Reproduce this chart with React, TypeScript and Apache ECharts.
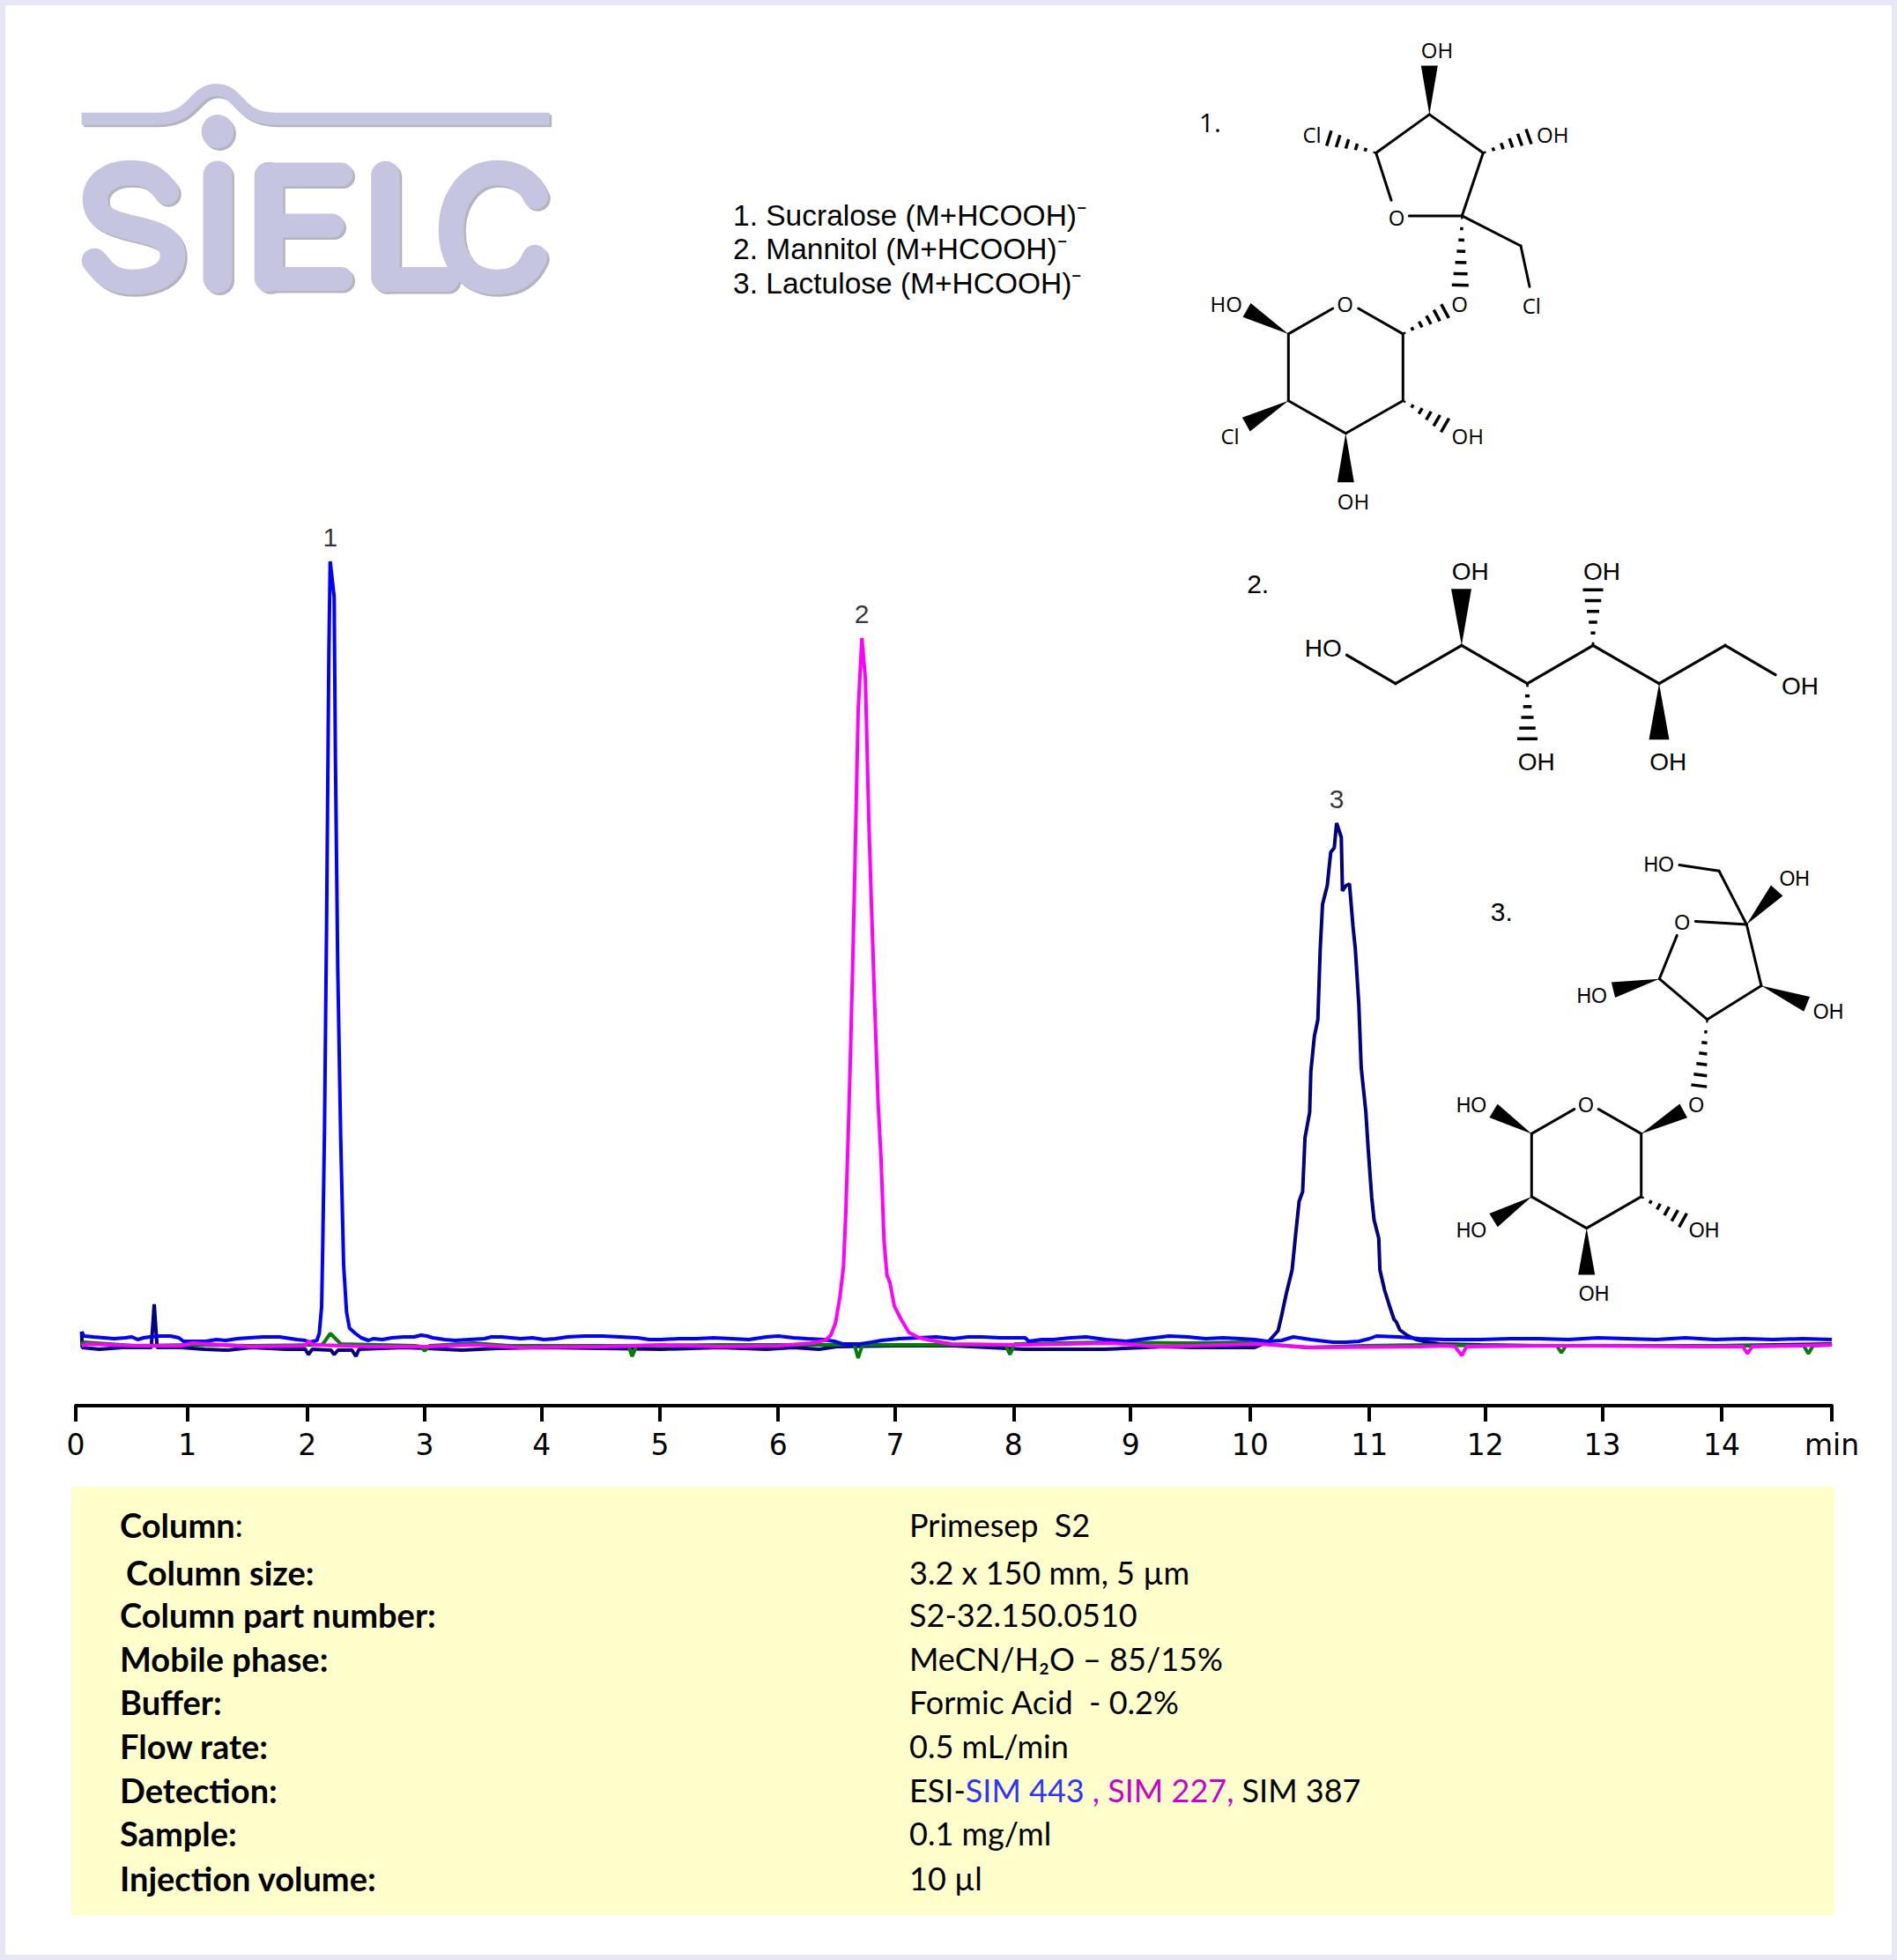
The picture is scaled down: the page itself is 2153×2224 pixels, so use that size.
import React, { useEffect, useRef } from "react";
import * as echarts from "echarts";

// ---------- chromatogram data (time in min, signal in arbitrary units) ----------
const blueT = [0.05,0.07,0.15,0.33,0.42,0.48,0.53,0.58,0.63,0.72,0.81,0.88,0.92,1.02,1.11,1.2,1.28,1.38,1.48,1.6,1.74,1.89,1.96,2.0,2.06,2.08,2.1,2.11,2.125,2.143,2.162,2.173,2.207,2.218,2.238,2.263,2.288,2.313,2.338,2.388,2.438,2.5,2.54,2.62,2.7,2.8,2.89,2.95,3.0,3.05,3.15,3.24,3.36,3.49,3.55,3.64,3.72,3.8,3.9,4.0,4.1,4.2,4.35,4.5,4.65,4.8,4.9,5.0,5.15,5.3,5.45,5.6,5.75,5.9,6.0,6.13,6.25,6.38,6.48,6.55,6.7,6.8,6.88,7.03,7.2,7.35,7.5,7.62,7.74,7.9,8.11,8.14,8.25,8.35,8.5,8.63,8.8,8.97,9.15,9.34,9.5,9.65,9.8,9.95,10.07,10.18,10.3,10.4,10.55,10.74,10.85,10.96,11.05,11.11,11.3,11.48,11.7,12,12.25,12.5,12.75,13,13.25,13.5,13.75,14,14.25,14.5,14.75,15];
const blueV = [84,79,78,76,77,78,75,77,78,79,79,77,73,73,73,75,74,76,77,78,78,75,74,72,74,82,112,184,316,555,855,958,918,735,495,304,160,106,88,82,77,74,76,75,77,78,78,80,79,77,75,74,75,76,78,78,77,76,77,75,76,78,79,79,78,77,75,75,76,76,77,76,75,78,79,77,76,75,73,70,70,72,74,76,77,78,76,78,78,77,77,73,75,75,77,78,75,73,76,79,78,76,77,76,75,73,74,78,75,72,72,73,76,79,78,76,75,75,76,76,75,77,76,75,77,75,76,75,76,75];

const navyT = [0.05,0.055,0.2,0.4,0.645,0.67,0.695,0.9,1.1,1.3,1.5,1.8,1.96,1.987,2.02,2.18,2.207,2.24,2.36,2.393,2.42,2.8,3,3.3,3.6,4,4.5,5,5.5,5.9,6.13,6.35,6.5,7,7.5,8.1,8.32,8.78,9.3,9.55,10.07,10.14,10.19,10.27,10.3,10.34,10.39,10.42,10.45,10.48,10.5,10.54,10.55,10.58,10.61,10.63,10.65,10.69,10.72,10.75,10.77,10.81,10.82,10.85,10.88,10.91,10.93,10.96,10.98,11.02,11.04,11.07,11.09,11.13,11.14,11.18,11.22,11.26,11.28,11.31,11.37,11.45,11.55,11.65,12,12.5,13,14,15];
const navyV = [84,66,64,66,66,115,66,66,64,63,66,64,64,58,64,63,58,63,63,56,64,66,65,63,65,66,65,64,66,64,66,64,67,68,68,64,64,64,67,66,66,70,73,85,102,127,154,194,232,243,304,333,379,419,438,518,569,590,628,633,661,645,584,590,592,544,518,455,384,333,291,236,211,190,154,131,114,98,95,86,80,75,72,70,69,68,68,68,70];

const greenT = [0.05,0.07,0.5,1,1.5,2.1,2.122,2.175,2.263,2.9,2.95,2.98,3.02,3.4,3.7,4.5,4.72,4.753,4.79,5.5,6.5,6.65,6.683,6.72,7.5,7.94,7.98,8.02,8.8,9.5,10,10.5,11,11.5,12,12.65,12.69,12.73,13.5,14.76,14.8,14.84,15];
const greenV = [70,72,68,69,68,69,72,82,70,68,67,62,68,71,68,68,68,56,68,69,69,70,54,69,69,69,58,70,72,71,72,66,68,69,68,68,60,68,68,68,59,68,69];

const magentaT = [0.05,0.1,0.5,0.9,1.0,1.5,1.96,1.987,2.03,2.5,3,3.4,3.8,4.5,5,5.5,6,6.28,6.4,6.45,6.49,6.528,6.558,6.578,6.598,6.615,6.64,6.658,6.683,6.715,6.745,6.773,6.798,6.828,6.854,6.879,6.904,6.929,6.954,6.992,7.054,7.117,7.205,7.306,7.48,8.1,8.84,9.27,10.1,10.57,11.48,11.7,11.78,11.84,11.88,12.5,13,13.8,14.24,14.28,14.32,15];
const magentaV = [68,70,68,68,71,67,68,73,69,67,67,69,66,67,69,67,68,71,74,80,94,124,158,220,306,386,520,627,788,871,825,670,563,440,343,279,188,148,140,113,97,83,77,74,70,69,71,67,70,66,67,68,67,57,67,68,68,67,67,59,67,69];

const peakT = [2.173, 6.715, 10.77];
const peakV = [958, 871, 661];
const peakNames = ["1", "2", "3"];

// printed ticks sit slightly unevenly on the source scale
const tickPositions = [0,0.954,1.978,2.98,3.98,4.99,6,7,8.01,9.01,10.03,11.05,12.04,13.04,14.06,15];
const tickNames = ["0","1","2","3","4","5","6","7","8","9","10","11","12","13","14","min"];

// ---------- texts ----------
const compoundLines = ["1. Sucralose (M+HCOOH)⁻","2. Mannitol (M+HCOOH)⁻","3. Lactulose (M+HCOOH)⁻"];
const infoLabels = ["Column size:","Column part number:","Mobile phase:","Buffer:","Flow rate:","Detection:","Sample:","Injection volume:"];
const infoValues = ["3.2 x 150 mm, 5 µm","S2-32.150.0510","MeCN/H₂O – 85/15%","Formic Acid  - 0.2%","0.5 mL/min","","0.1 mg/ml","10 µl"];
const infoRowY = [1784,1832,1882,1931,1981,2031,2080,2131];

type P = [number, number];
const LOGO = "#c5c5e1";
const SHADOW = "#b4b4bc";
const logoPaths: Record<string, string> = {
  sielcBar: "M92.6 134.7 H178 C222 134.7 218 102 245.7 102 C273 102 268 134.7 313 134.7 H623.7",
  sielcS: "M189 218 C178 203 170 196 148 196 C125 196 108 208 108 226 C108 243 118 250 140 256 C165 263 196 265 196 290 C196 310 175 320 150 320 C127 320 118 310 107 296",
  sielcI: "M247 199 V316",
  sielcE: "M387 198 H305 V316.5 H387 M305 256 H377",
  sielcEV: "M305 200 V315",
  sielcL: "M437.5 317 H507",
  sielcLV: "M437.5 199 V315",
  sielcC: "M608 223 C600 205 585 196 564 196 C530 196 512 230 512 260 C512 295 530 320 564 320 C585 320 598 312 607 292",
};
let registered = false;
function registerLogo() {
  if (registered) return;
  registered = true;
  Object.keys(logoPaths).forEach((k) => {
    echarts.graphic.registerShape(k, (echarts.graphic as any).extendPath(logoPaths[k], {}));
  });
}

function bond(a: P, b: P, w = 3) {
  return { type: "line", shape: { x1: a[0], y1: a[1], x2: b[0], y2: b[1] }, style: { stroke: "#000", lineWidth: w, lineCap: "round" } };
}
function path(pts: P[], w = 3) {
  const out: any[] = [];
  for (let i = 0; i < pts.length - 1; i++) out.push(bond(pts[i], pts[i + 1], w));
  return out;
}
function wedge(a: P, b: P, width: number) {
  const dx = b[0] - a[0], dy = b[1] - a[1];
  const l = Math.hypot(dx, dy);
  const nx = (-dy / l) * (width / 2), ny = (dx / l) * (width / 2);
  return { type: "polygon", shape: { points: [a, [b[0] + nx, b[1] + ny], [b[0] - nx, b[1] - ny]] }, style: { fill: "#000" } };
}
function hash(a: P, b: P, width: number, n = 6) {
  const dx = b[0] - a[0], dy = b[1] - a[1];
  const l = Math.hypot(dx, dy);
  const ux = -dy / l, uy = dx / l;
  const out: any[] = [];
  for (let i = 0; i < n; i++) {
    const f = (i + 0.15) / (n - 0.85);
    const cx = a[0] + dx * f, cy = a[1] + dy * f;
    const h = (width / 2) * Math.max(f, 0.12);
    out.push({ type: "line", shape: { x1: cx + ux * h, y1: cy + uy * h, x2: cx - ux * h, y2: cy - uy * h }, style: { stroke: "#000", lineWidth: 3.5 } });
  }
  return out;
}
function label(text: string, x: number, y: number, size: number, family: string, extra: any = {}) {
  return { type: "text", x, y, style: { text, fontSize: size, fontFamily: family, fill: "#000", align: "center", verticalAlign: "middle", ...extra } };
}

function moleculeOne() {
  const f = "Open Sans", s = 24;
  const A: P = [1622.3, 129.9], B: P = [1683.3, 173.5], C: P = [1659.3, 244.9], D: P = [1561.7, 173.5];
  const P1: P = [1462.3, 378.9], P2: P = [1462.3, 454.7], P3: P = [1527.3, 491.7], P4: P = [1592.3, 454.7], P5: P = [1592.3, 378.9];
  return [
    label("1.", 1373.3, 138, 30, f),
    ...path([[1579, 227.2], D, A, B, C, [1599.3, 244.9]]),
    ...path([C, [1726, 279], [1736, 325.2]]),
    ...path([[1512.7, 350], P1, P2, P3, P4, P5, [1541.7, 350]]),
    wedge(A, [1622.3, 74.4], 19),
    wedge(P1, [1415, 351.9], 18),
    wedge(P2, [1414.3, 481.7], 18),
    wedge(P3, [1527.3, 547.2], 19),
    ...hash(D, [1508.3, 156.9], 18),
    ...hash(B, [1735, 155], 18),
    ...hash(C, [1657.3, 323.4], 19, 7),
    ...hash(P4, [1640, 482.5], 18),
    ...hash(P5, [1640, 353], 18),
    label("OH", 1631, 56, s, f), label("Cl", 1489, 152.5, s, f), label("OH", 1762.3, 152.5, s, f),
    label("O", 1585, 246.5, s, f), label("O", 1656.7, 344, s, f), label("Cl", 1738.3, 346, s, f),
    label("HO", 1391.7, 344, s, f), label("O", 1526.7, 344, s, f), label("Cl", 1396, 494, s, f),
    label("OH", 1665.7, 494, s, f), label("OH", 1536, 568.5, s, f),
  ];
}
function moleculeTwo() {
  const f = "Liberation Sans", s = 28;
  const c1: P = [1658.9, 732.3], c2: P = [1733.5, 775.7], c3: P = [1808, 732.3], c4: P = [1883, 775.7];
  return [
    label("2.", 1427.7, 662.3, 30, f),
    ...path([[1528.6, 743.3], [1583.9, 775.7], c1, c2, c3, c4, [1958, 732.3], [2015, 765.7]], 3.2),
    wedge(c1, [1658.5, 668.3], 23),
    wedge(c4, [1883, 839.3], 23),
    ...hash(c3, [1808, 669.3], 23),
    ...hash(c2, [1733.5, 838.3], 23),
    label("HO", 1501.8, 735, s, f), label("OH", 1668.8, 648.3, s, f), label("OH", 1818, 648.3, s, f),
    label("OH", 1743.8, 864.3, s, f), label("OH", 1893.3, 864.3, s, f), label("OH", 2042.9, 778.3, s, f),
  ];
}
function moleculeThree() {
  const f = "Liberation Sans", s = 23;
  const C2: P = [1982.3, 1049], C3: P = [1999, 1118.6], C4: P = [1937.7, 1156.8], C5: P = [1883.3, 1110.7];
  const Q1: P = [1738.3, 1286.4], Q2: P = [1738.3, 1357.9], Q3: P = [1800.7, 1393.6], Q4: P = [1862.7, 1357.9], Q5: P = [1862.7, 1286.4];
  return [
    label("3.", 1704.3, 1034.6, 30, f),
    ...path([[1906, 981.4], [1951, 988.2], C2, C3, C4, C5, [1903.3, 1061.4]]),
    bond([1924.3, 1045.4], C2),
    ...path([[1786.7, 1258.6], Q1, Q2, Q3, Q4, Q5, [1814.3, 1258.6]]),
    wedge(C2, [2016.7, 1010.4], 18),
    wedge(C3, [2050.7, 1139.3], 18),
    wedge(C5, [1831, 1123.2], 18),
    wedge(Q1, [1695, 1260.4], 18),
    wedge(Q2, [1695, 1384.6], 18),
    wedge(Q3, [1800.7, 1446.4], 19),
    wedge(Q5, [1910.7, 1260.4], 18),
    ...hash(C4, [1928.3, 1232], 18, 7),
    ...hash(Q4, [1910, 1384.6], 18),
    label("HO", 1882.7, 981, s, f), label("OH", 2036.7, 997, s, f), label("O", 1909.3, 1047, s, f),
    label("OH", 2075, 1147.9, s, f), label("HO", 1806.7, 1130.4, s, f), label("O", 1925.3, 1253.6, s, f),
    label("O", 1800, 1253.6, s, f), label("HO", 1670, 1253.6, s, f), label("HO", 1670, 1396, s, f),
    label("OH", 1934, 1396, s, f), label("OH", 1809, 1467.5, s, f),
  ];
}
function logo() {
  const out: any[] = [];
  const widths: Record<string, number> = { sielcBar: 14, sielcS: 28.5, sielcI: 33, sielcE: 27, sielcEV: 32.6, sielcL: 28, sielcLV: 32.6, sielcC: 28.5 };
  const layers: [number, string][] = [[2.5, SHADOW], [0, LOGO]];
  layers.forEach(([o, color]) => {
    Object.keys(logoPaths).forEach((k) => {
      out.push({ type: k, x: o, y: o, style: { fill: "none", stroke: color, lineWidth: widths[k], lineCap: k === "sielcBar" ? "butt" : "round", lineJoin: "round" } });
    });
    out.push({ type: "ellipse", shape: { cx: 247 + o, cy: 149.3 + o, rx: 18.4, ry: 19.2 }, style: { fill: color } });
  });
  return out;
}
function infoBox() {
  const f = "Lato", sb = 38, s = 36;
  const out: any[] = [
    { type: "rect", shape: { x: 81, y: 1687, width: 2001, height: 486 }, style: { fill: "#ffffcc" } },
    { type: "text", x: 136, y: 1730, style: { text: "{b|Column}{n|:}", verticalAlign: "middle", rich: { b: { fontSize: sb, fontFamily: f, fontWeight: "bold", fill: "#000" }, n: { fontSize: s, fontFamily: f, fill: "#000" } } } },
    { type: "text", x: 1032, y: 1730, style: { text: "Primesep  S2", fontSize: s, fontFamily: f, fill: "#000", verticalAlign: "middle" } },
  ];
  infoLabels.forEach((t, i) => {
    out.push({ type: "text", x: i === 0 ? 143 : 136, y: infoRowY[i], style: { text: t, fontSize: sb, fontFamily: f, fontWeight: "bold", fill: "#000", verticalAlign: "middle" } });
    if (infoValues[i]) out.push({ type: "text", x: 1032, y: infoRowY[i], style: { text: infoValues[i], fontSize: s, fontFamily: f, fill: "#000", verticalAlign: "middle" } });
  });
  out.push({
    type: "text", x: 1032, y: 2031,
    style: {
      text: "{k|ESI-}{b|SIM 443}{m| , SIM 227,}{k| SIM 387}", verticalAlign: "middle",
      rich: {
        k: { fontSize: s, fontFamily: f, fill: "#000" },
        b: { fontSize: s, fontFamily: f, fill: "#3333ff" },
        m: { fontSize: s, fontFamily: f, fill: "#cc00cc" },
      },
    },
  });
  return out;
}

const zip = (t: number[], v: number[]) => t.map((x, i) => [x, v[i]]);
const lineSeries = (name: string, t: number[], v: number[], color: string) => ({
  name, type: "line", data: zip(t, v), showSymbol: false, symbol: "none", smooth: false,
  lineStyle: { color, width: 4 }, silent: true,
});

export default function App() {
  const ref = useRef<HTMLDivElement>(null);
  useEffect(() => {
    document.body.style.margin = "0";
    registerLogo();
    const chart = echarts.init(ref.current!, undefined, { renderer: "svg" });
    chart.setOption({
      animation: false,
      backgroundColor: "#fff",
      grid: { left: 86, right: 74, top: 600, height: 995 },
      xAxis: {
        type: "value", min: 0, max: 15,
        axisLine: { show: true, onZero: false, lineStyle: { color: "#000", width: 4 } },
        axisTick: { show: true, length: 18, customValues: tickPositions, lineStyle: { color: "#000", width: 4 } },
        axisLabel: {
          show: true, margin: 28, fontSize: 33, fontFamily: "DejaVu Sans", color: "#000",
          customValues: tickPositions,
          formatter: (v: number) => tickNames[tickPositions.indexOf(v)] ?? "",
        },
        splitLine: { show: false },
      },
      yAxis: { type: "value", min: 0, max: 995, show: false, splitLine: { show: false } },
      series: [
        lineSeries("SIM 387", navyT, navyV, "#000080"),
        lineSeries("TIC", greenT, greenV, "#008000"),
        lineSeries("SIM 443", blueT, blueV, "#0000ff"),
        lineSeries("SIM 227", magentaT, magentaV, "#ff00ff"),
        {
          name: "peaks", type: "scatter", symbolSize: 0, silent: true,
          data: peakT.map((t, i) => ({ value: [t, peakV[i]], name: peakNames[i] })),
          label: { show: true, position: "top", distance: 13, formatter: "{b}", fontSize: 30, fontFamily: "Liberation Sans", color: "#000" },
        },
      ],
      graphic: {
        elements: [
          { type: "rect", z: -1, shape: { x: 3, y: 3, width: 2147, height: 2218 }, style: { fill: "#fff", stroke: "#e6e6f5", lineWidth: 6 } },
          ...logo(),
          ...compoundLines.map((t, i) => ({
            type: "text", x: 832, y: [244, 282, 321][i],
            style: { text: t, fontSize: 33.5, fontFamily: "Liberation Sans", fill: "#000", verticalAlign: "middle" },
          })),
          ...moleculeOne(),
          ...moleculeTwo(),
          ...moleculeThree(),
          ...infoBox(),
        ],
      },
    });
    return () => chart.dispose();
  }, []);
  return <div ref={ref} style={{ width: 2153, height: 2224 }} />;
}
